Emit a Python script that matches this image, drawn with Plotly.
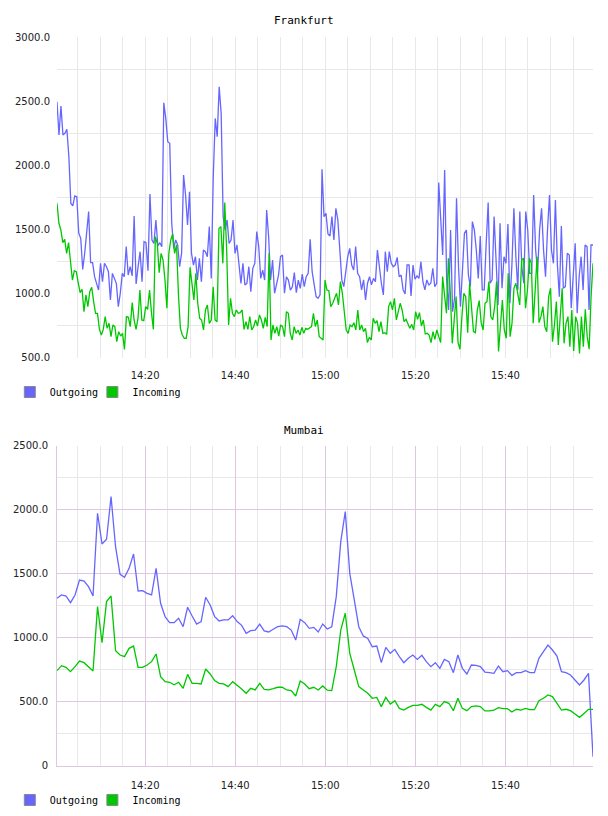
import datetime as dt
import numpy as np
import plotly.graph_objects as go

# ---------------- data ----------------
START = dt.datetime(2024, 1, 1, 14, 0, 26)
SPAN_MIN = 119

frankfurt_outgoing = [
    2496, 2237, 2462, 2237, 2250, 2281, 2068, 1704, 1684, 1762,
    1756, 1471, 1432, 1190, 1315, 1471, 1640, 1242, 1242, 1133,
    1087, 1029, 1237, 1094, 1237, 1211, 1172, 952, 1159, 1113,
    1081, 900, 1004, 1159, 1133, 1367, 1146, 1211, 1139, 1606,
    1076, 1211, 1328, 1094, 1406, 1398, 1180, 1777, 1419, 1393,
    1575, 1372, 1398, 1367, 2488, 2366, 2185, 2172, 1549, 1354,
    1419, 1380, 1211, 1315, 1925, 1769, 1536, 1795, 1315, 1224,
    1289, 1107, 1276, 1094, 1341, 1328, 1289, 1523, 1120, 1912,
    2366, 2224, 2613, 2405, 1601, 1497, 1575, 1393, 1419, 1575,
    1315, 1380, 1237, 1081, 1237, 1068, 1081, 1211, 1017, 1198,
    1237, 1484, 1367, 1120, 1185, 1107, 1653, 1445, 1107, 1263,
    1004, 1081, 1146, 1289, 1302, 1004, 1133, 1107, 1029, 1055,
    1165, 1009, 1107, 1042, 1154, 1055, 1133, 1159, 1424, 1172,
    1055, 978, 965, 991, 1969, 1601, 1627, 1466,
    1450, 1601, 1419, 1666, 1575, 1341, 1108, 1056, 1185, 1289,
    1354, 1224, 1185, 1367, 1159, 1133, 1030, 1108, 952, 1082,
    1133, 1069, 1120, 1095, 1341, 1185, 1082, 991, 1328, 1172,
    1328, 1237, 1211, 1224, 1284, 1133, 1146, 1030, 999, 1224,
    1224, 983, 1224, 1113, 1139, 1120, 1250, 1095, 1030, 1108,
    1069, 1082, 1198, 1056, 1082, 1866, 1523, 1302, 1964, 1108,
    874, 1497, 861, 965, 1744, 1211, 900, 1224, 1471, 1497,
    1146, 1056, 1562, 1497, 1341, 1120, 1450, 1030, 1030, 1393,
    1710, 1082, 1108, 1601, 1250, 913, 1549, 1043, 1289, 1237,
    1544, 926, 1224, 1666, 1289, 1030, 1640, 1211, 1082, 1640,
    1497, 1159, 1159, 1770, 1341, 1172, 1497, 1666, 1341, 1133,
    1497, 1770, 1341, 1237, 1731, 1224, 978, 1528, 1043, 1056,
    1315, 1302, 887, 1133, 1393, 848, 1133, 1289, 1030, 1380,
    1367, 874, 1380, 1380,
]

frankfurt_incoming = [
    1705, 1549, 1497, 1398, 1424, 1315, 1398, 1224, 1107, 1180,
    1172, 1087, 1009, 1035, 861, 991, 900, 1017, 1050, 939,
    848, 848, 723, 679, 723, 822, 731, 770, 666, 757,
    744, 627, 705, 671, 692, 567, 822, 817, 744, 931,
    796, 723, 809, 1029, 796, 791, 900, 879, 1029, 853,
    723, 1445, 1393, 1164, 1315, 1263, 1107, 887, 1315, 1419,
    1466, 1315, 1380, 991, 731, 679, 653, 653, 744, 1206,
    1081, 952, 1159, 926, 809, 796, 718, 874, 913, 770,
    796, 1055, 796, 783, 1510, 1523, 1237, 1710, 1341, 757,
    965, 848, 822, 874, 848, 853, 874, 723, 783, 723,
    822, 718, 744, 796, 749, 835, 796, 731, 817, 744,
    1315, 640, 757, 692, 744, 671, 757, 744, 666, 861,
    848, 692, 640, 744, 692, 718, 679, 739, 692, 731,
    723, 731, 744, 848, 744, 796, 666, 653, 640, 1107,
    1029, 1024, 900,
    926, 965, 1004, 913, 1095, 1004, 848, 718, 692, 757,
    744, 775, 718, 874, 718, 757, 705, 731, 620, 661,
    640, 809, 770, 791, 705, 783, 692, 697, 684, 900,
    939, 874, 965, 796, 861, 926, 874, 783, 801, 770,
    731, 762, 718, 861, 801, 853, 749, 796, 687, 692,
    679, 620, 705, 645, 718, 666, 620, 1134, 1004, 848,
    1276, 1004, 614, 770, 978, 620, 568, 822, 1004, 978,
    697, 1082, 900, 705, 697, 874, 947, 775, 718, 926,
    939, 1095, 822, 796, 900, 1095, 550, 770, 952, 718,
    653, 1160, 666, 770, 1043, 1082, 978, 913, 1263, 1276,
    887, 1030, 1276, 1237, 770, 1004, 1289, 775, 822, 900,
    744, 705, 978, 1043, 627, 757, 939, 601, 822, 1043,
    614, 770, 822, 588, 874, 555, 822, 770, 536, 822,
    588, 879, 666, 568, 978, 1237,
]

mumbai_outgoing = [
    1310, 1336, 1328, 1276, 1336, 1453, 1445, 1401, 1328, 1974,
    1734, 1771, 2104, 1713, 1497, 1474, 1544, 1656, 1367, 1370,
    1349, 1336, 1544, 1271, 1167, 1120, 1120, 1154, 1088, 1240,
    1172, 1109, 1128, 1318, 1258, 1167, 1133, 1141, 1141, 1174,
    1128, 1099, 1036, 1057, 1062, 1109, 1055, 1047, 1068, 1088,
    1094, 1088, 1062, 984, 1146, 1120, 1075, 1083, 1047, 1109,
    1070, 1088, 1323, 1753, 1987, 1505, 1297, 1088, 1016, 997,
    932, 937, 807, 927, 880, 911, 854, 807, 841, 867,
    833, 865, 815, 776, 807, 763, 833, 815, 729, 867,
    763, 719, 789, 786, 776, 734, 729, 724, 781, 737,
    745, 708, 729, 729, 745, 729, 729, 841, 893, 945,
    906, 859, 737, 729, 711, 672, 633, 672, 724, 73,
]

mumbai_incoming = [
    745, 784, 771, 737, 776, 820, 807, 776, 742, 1245,
    963, 1284, 1328, 901, 867, 854, 919, 937, 771, 771,
    789, 815, 875, 698, 659, 654, 635, 654, 607, 716,
    646, 646, 641, 758, 719, 667, 646, 641, 620, 659,
    633, 602, 568, 607, 594, 646, 599, 594, 604, 615,
    615, 594, 589, 547, 664, 641, 604, 615, 594, 625,
    592, 589, 776, 1062, 1193, 880, 750, 620, 594, 568,
    529, 536, 464, 536, 484, 510, 450, 437, 458, 474,
    474, 482, 458, 437, 482, 464, 503, 490, 432, 529,
    450, 432, 464, 469, 464, 430, 430, 437, 456, 448,
    448, 422, 443, 437, 450, 440, 440, 510, 529, 555,
    542, 490, 437, 443, 432, 406, 380, 411, 443, 443,
]

series_names = ["Outgoing", "Incoming"]
frankfurt_ticks = [500, 1000, 1500, 2000, 2500, 3000]
frankfurt_ticktext = ["500.0", "1000.0", "1500.0", "2000.0", "2500.0", "3000.0"]
mumbai_ticks = [0, 500, 1000, 1500, 2000, 2500]
mumbai_ticktext = ["0", "500.0", "1000.0", "1500.0", "2000.0", "2500.0"]

# ---------------- styling ----------------
BLUE = "#6666ff"
GREEN = "#00c800"
GRID = "#e8e8e8"
PINK = "#e0c6e0"
MONO = "DejaVu Sans Mono"
SANS = "DejaVu Sans"


def times_for(n):
    offs = np.linspace(0, SPAN_MIN * 60, n)
    return [START + dt.timedelta(seconds=float(s)) for s in offs]


mumbai_times = [START + dt.timedelta(minutes=i) for i in range(len(mumbai_outgoing))]

fig = go.Figure()

fig.add_trace(go.Scatter(x=times_for(len(frankfurt_outgoing)), y=frankfurt_outgoing,
                         mode="lines", line=dict(color=BLUE, width=1.3),
                         showlegend=False, xaxis="x", yaxis="y"))
fig.add_trace(go.Scatter(x=times_for(len(frankfurt_incoming)), y=frankfurt_incoming,
                         mode="lines", line=dict(color=GREEN, width=1.3),
                         showlegend=False, xaxis="x", yaxis="y"))
fig.add_trace(go.Scatter(x=mumbai_times, y=mumbai_outgoing,
                         mode="lines", line=dict(color=BLUE, width=1.3),
                         showlegend=False, xaxis="x2", yaxis="y2"))
fig.add_trace(go.Scatter(x=mumbai_times, y=mumbai_incoming,
                         mode="lines", line=dict(color=GREEN, width=1.3),
                         showlegend=False, xaxis="x2", yaxis="y2"))

# legend entries (square swatches), one legend box per entry
legend_ids = [("legend", "legend2", "x", "y"), ("legend3", "legend4", "x2", "y2")]
for (l_out, l_in, xa, ya) in legend_ids:
    for leg, name, col in ((l_out, series_names[0], BLUE), (l_in, series_names[1], GREEN)):
        fig.add_trace(go.Scatter(x=[None], y=[None], mode="markers", name=name,
                                 marker=dict(symbol="square", size=11, color=col,
                                             line=dict(color="#888888", width=1)),
                                 legend=leg, xaxis=xa, yaxis=ya))

x_range = [START, START + dt.timedelta(minutes=SPAN_MIN)]
tick0 = "2024-01-01 14:00:00"

common_x = dict(type="date", range=x_range, tickformat="%H:%M", tick0=tick0,
                dtick=20 * 60000, showgrid=True, zeroline=False, ticks="",
                ticklabelstandoff=10,
                tickfont=dict(family=SANS, size=10, color="#222"))

legend_common = dict(orientation="h", xanchor="left", yanchor="middle",
                     font=dict(family=MONO, size=10, color="#000"),
                     itemwidth=30, bgcolor="rgba(0,0,0,0)", borderwidth=0)

LX1, LX2 = -0.088, 0.066
LY_TOP, LY_BOT = 0.513, -0.0466

fig.update_layout(
    width=608, height=816,
    margin=dict(l=57, r=15, t=37, b=50, autoexpand=False),
    paper_bgcolor="white", plot_bgcolor="white",
    xaxis=dict(**common_x, domain=[0, 1], anchor="y", gridcolor=GRID,
               showline=False,
               minor=dict(tick0=tick0, dtick=5 * 60000, showgrid=True, gridcolor=GRID)),
    yaxis=dict(domain=[0.5597, 1], anchor="x", range=[500, 3000],
               tickmode="array", tickvals=frankfurt_ticks, ticktext=frankfurt_ticktext,
               showgrid=False, zeroline=False, showline=False, ticks="",
               ticklabelstandoff=6,
               tickfont=dict(family=SANS, size=10, color="#222"),
               minor=dict(tickmode="array", tickvals=[750, 1250, 1750, 2250, 2750],
                          showgrid=True, gridcolor=GRID)),
    xaxis2=dict(**common_x, domain=[0, 1], anchor="y2", gridcolor=PINK,
                showline=True, linecolor=PINK, linewidth=1,
                minor=dict(tick0=tick0, dtick=5 * 60000, showgrid=True, gridcolor=GRID)),
    yaxis2=dict(domain=[0, 0.4390], anchor="x2", range=[0, 2500],
                tickmode="array", tickvals=mumbai_ticks, ticktext=mumbai_ticktext,
                showgrid=True, gridcolor=PINK, zeroline=False,
                showline=True, linecolor=PINK, linewidth=1, ticks="",
                ticklabelstandoff=6,
                tickfont=dict(family=SANS, size=10, color="#222"),
                minor=dict(tickmode="array", tickvals=[250, 750, 1250, 1750, 2250],
                           showgrid=True, gridcolor=GRID)),
    legend=dict(**legend_common, x=LX1, y=LY_TOP),
    legend2=dict(**legend_common, x=LX2, y=LY_TOP),
    legend3=dict(**legend_common, x=LX1, y=LY_BOT),
    legend4=dict(**legend_common, x=LX2, y=LY_BOT),
    annotations=[
        dict(text="Frankfurt", xref="paper", yref="paper", x=0.4608, y=1.0233,
             xanchor="center", yanchor="middle", showarrow=False,
             font=dict(family=MONO, size=11, color="#000")),
        dict(text="Mumbai", xref="paper", yref="paper", x=0.4608, y=0.4609,
             xanchor="center", yanchor="middle", showarrow=False,
             font=dict(family=MONO, size=11, color="#000")),
    ],
)

fig.write_html("out.html")
